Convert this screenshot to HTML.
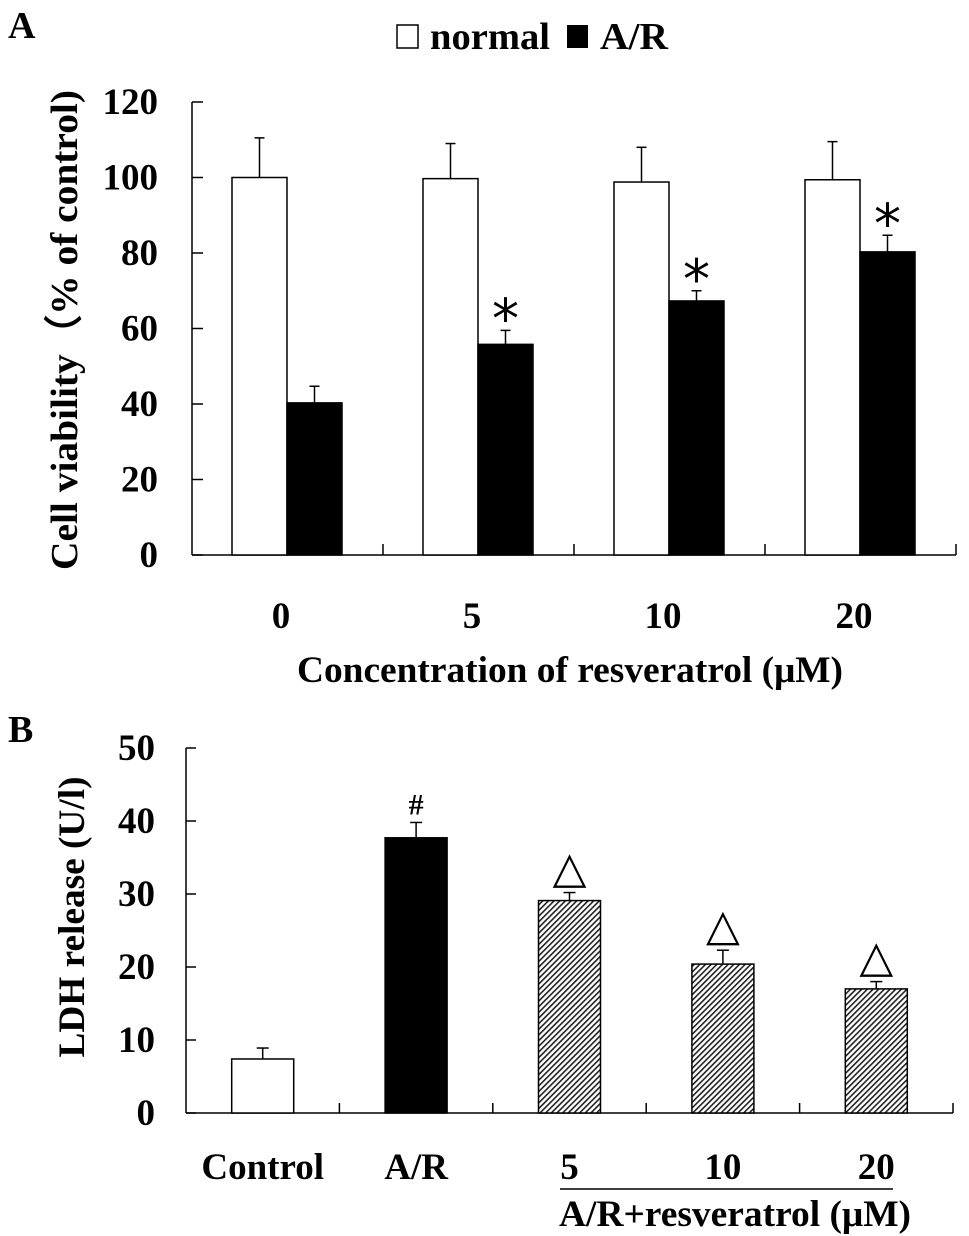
<!DOCTYPE html>
<html><head><meta charset="utf-8"><style>
html,body{margin:0;padding:0;background:#fff;}
svg{display:block;font-family:"Liberation Serif",serif;font-weight:bold;}
</style></head><body>
<svg id="fig" width="969" height="1236" viewBox="0 0 969 1236" xmlns="http://www.w3.org/2000/svg">
<defs>
<pattern id="hatch" patternUnits="userSpaceOnUse" width="4" height="4" patternTransform="rotate(45)">
<rect width="4" height="4" fill="#fff"/><rect width="1.6" height="4" fill="#222"/>
</pattern>
</defs>
<text x="8" y="38" font-size="38">A</text>
<g>
<rect x="397" y="25" width="21" height="23" fill="#fff" stroke="#000" stroke-width="1.5"/>
<text x="430" y="49" font-size="38" textLength="120" lengthAdjust="spacingAndGlyphs">normal</text>
<rect x="567" y="25" width="21" height="23" fill="#000"/>
<text x="600" y="49" font-size="38" textLength="68" lengthAdjust="spacingAndGlyphs">A/R</text>
</g>
<text transform="translate(77,330) rotate(-90)" text-anchor="middle" font-size="38" textLength="480" lengthAdjust="spacingAndGlyphs">Cell viability（% of control)</text>
<text x="570" y="682" text-anchor="middle" font-size="37" textLength="546" lengthAdjust="spacingAndGlyphs">Concentration of resveratrol (μM)</text>
<g id="pa"></g>
<text x="8" y="742" font-size="38">B</text>
<text transform="translate(84,917) rotate(-90)" text-anchor="middle" font-size="37" textLength="281" lengthAdjust="spacingAndGlyphs">LDH release (U/l)</text>
<line x1="560" y1="1189" x2="893" y2="1189" stroke="#000" stroke-width="1.5"/>
<text x="735" y="1226" text-anchor="middle" font-size="37" textLength="352" lengthAdjust="spacingAndGlyphs">A/R+resveratrol (μM)</text>
<g id="pb"></g>
</svg>
<script>
const catsA=["0","5","10","20"];
const normalVals=[100,99.7,98.8,99.4];
const normalErr=[10.5,9.3,9.2,10.1];
const arVals=[40.3,55.8,67.3,80.3];
const arErr=[4.4,3.7,2.7,4.4];
const arSig=[false,true,true,true];
const ticksA=[0,20,40,60,80,100,120];

const catsB=["Control","A/R","5","10","20"];
const ldhVals=[7.4,37.7,29.1,20.4,17.0];
const ldhErr=[1.5,2.1,1.1,1.9,1.0];
const ldhMark=["","#","△","△","△"];
const ticksB=[0,10,20,30,40,50];

const NS="http://www.w3.org/2000/svg";
function mk(p,t,a){const e=document.createElementNS(NS,t);for(const k in a)e.setAttribute(k,a[k]);p.appendChild(e);return e;}

// Panel A
const pa=document.getElementById('pa');
const ax0=192,ax1=956,ay0=555,ay1=102;
const yA=v=>ay0-(v/120)*(ay0-ay1);
const gw=(ax1-ax0)/catsA.length;
let e;
e=mk(pa,'line',{x1:ax0,y1:ay1,x2:ax0,y2:ay0,stroke:'#000','stroke-width':1.5});

e=mk(pa,'line',{x1:ax0,y1:ay0,x2:ax1,y2:ay0,stroke:'#000','stroke-width':1.5});

ticksA.forEach(t=>{
 e=mk(pa,'line',{x1:ax0,y1:yA(t),x2:ax0+11,y2:yA(t),stroke:'#000','stroke-width':1.5});
 
 e=mk(pa,'text',{x:ax0-34,y:yA(t)+12,'text-anchor':'end','font-size':37});e.textContent=t;
 
});
for(let i=1;i<=catsA.length;i++){
 e=mk(pa,'line',{x1:ax0+gw*i,y1:ay0,x2:ax0+gw*i,y2:ay0-11,stroke:'#000','stroke-width':1.5});
 
}
const bwA=55;
catsA.forEach((c,i)=>{
 const cx=ax0+gw*i+gw/2-0.5;
 const xn=cx-bwA, xa=cx;
 [[normalVals[i],normalErr[i],xn,'#fff','bar-normal-'+c],[arVals[i],arErr[i],xa,'#000','bar-ar-'+c]].forEach(([v,er,x,f,n])=>{
  e=mk(pa,'line',{x1:x+bwA/2,y1:yA(v),x2:x+bwA/2,y2:yA(v+er),stroke:'#000','stroke-width':1.5});
  
  e=mk(pa,'line',{x1:x+bwA/2-5,y1:yA(v+er),x2:x+bwA/2+5,y2:yA(v+er),stroke:'#000','stroke-width':1.5});
  
  e=mk(pa,'rect',{x:x,y:yA(v),width:bwA,height:ay0-yA(v),fill:f,stroke:'#000','stroke-width':1.5});
  
 });
 if(arSig[i]){
  e=mk(pa,'text',{x:xa+bwA/2,y:yA(arVals[i]+arErr[i])+7,'text-anchor':'middle','font-size':54,'font-weight':'normal','font-family':'DejaVu Sans, sans-serif'});e.textContent='*';
  
 }
 e=mk(pa,'text',{x:cx-6,y:628,'text-anchor':'middle','font-size':37});e.textContent=c;
 
});

// Panel B
const pb=document.getElementById('pb');
const bx0=186,bx1=953,by0=1113,by1=748;
const yB=v=>by0-(v/50)*(by0-by1);
const gwB=(bx1-bx0)/catsB.length;
e=mk(pb,'line',{x1:bx0,y1:by1,x2:bx0,y2:by0,stroke:'#000','stroke-width':1.5});

e=mk(pb,'line',{x1:bx0,y1:by0,x2:bx1,y2:by0,stroke:'#000','stroke-width':1.5});

ticksB.forEach(t=>{
 e=mk(pb,'line',{x1:bx0,y1:yB(t),x2:bx0+10,y2:yB(t),stroke:'#000','stroke-width':1.5});
 
 e=mk(pb,'text',{x:bx0-31,y:yB(t)+12,'text-anchor':'end','font-size':37});e.textContent=t;
 
});
for(let i=1;i<=catsB.length;i++){
 e=mk(pb,'line',{x1:bx0+gwB*i,y1:by0,x2:bx0+gwB*i,y2:by0-10,stroke:'#000','stroke-width':1.5});
 
}
const bwB=62;
catsB.forEach((c,i)=>{
 const cx=bx0+gwB*i+gwB/2;
 const v=ldhVals[i],er=ldhErr[i];
 const fill=i===0?'#fff':(i===1?'#000':'url(#hatch)');
 e=mk(pb,'line',{x1:cx,y1:yB(v),x2:cx,y2:yB(v+er),stroke:'#000','stroke-width':1.5});
 
 e=mk(pb,'line',{x1:cx-6,y1:yB(v+er),x2:cx+6,y2:yB(v+er),stroke:'#000','stroke-width':1.5});
 
 e=mk(pb,'rect',{x:cx-bwB/2,y:yB(v),width:bwB,height:by0-yB(v),fill:fill,stroke:'#000','stroke-width':1.5});
 
 if(ldhMark[i]){
  const big=ldhMark[i]!=='#';
  e=mk(pb,'text',{x:cx,y:yB(v+er)-(big?10:8),'text-anchor':'middle','font-size':big?44:30,'font-weight':big?'normal':'bold','font-family':big?'DejaVu Sans, sans-serif':'Liberation Serif, serif'});e.textContent=ldhMark[i];
  
 }
 e=mk(pb,'text',{x:cx,y:1179,'text-anchor':'middle','font-size':37});e.textContent=c;
 
});
</script>
</body></html>
